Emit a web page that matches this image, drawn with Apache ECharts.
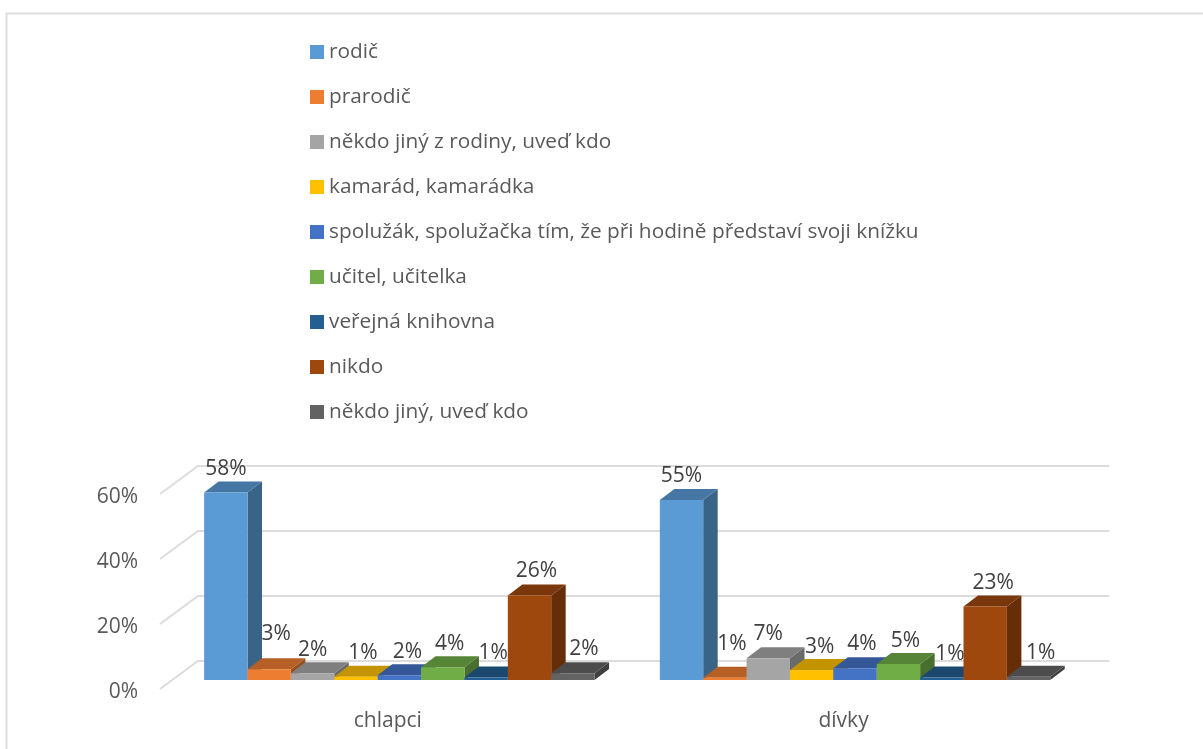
<!DOCTYPE html>
<html><head><meta charset="utf-8">
<style>html,body{margin:0;padding:0;background:#fff}#c{width:1203px;height:749px}</style>
<script src="https://cdn.jsdelivr.net/npm/echarts@6/dist/echarts.min.js"></script>
</head><body><div id="c"></div>
<script>
const categories = ['chlapci', 'dívky'];
const yTicks = [0, 20, 40, 60];
const rodic = [57.7, 55.4];
const prarodic = [3.3, 0.7];
const nekdoZRodiny = [2.1, 6.7];
const kamarad = [1.0, 3.1];
const spoluzak = [1.5, 3.6];
const ucitel = [3.9, 4.9];
const knihovna = [0.8, 0.8];
const nikdo = [26, 22.6];
const nekdoJiny = [2.1, 1.0];
const seriesNames = ['rodič', 'prarodič', 'někdo jiný z rodiny, uveď kdo', 'kamarád, kamarádka',
  'spolužák, spolužačka tím, že při hodině představí svoji knížku', 'učitel, učitelka',
  'veřejná knihovna', 'nikdo', 'někdo jiný, uveď kdo'];
const seriesValues = [rodic, prarodic, nekdoZRodiny, kamarad, spoluzak, ucitel, knihovna, nikdo, nekdoJiny];

// styling only
const colors = ['#5B9BD5', '#ED7D31', '#A5A5A5', '#FFC000', '#4472C4', '#70AD47', '#255E91', '#9E480E', '#636363'];
const labelDx = [[0, 0], [7, 7], [0, 0], [7, 8], [8, 7], [7, 7], [7, 8], [7, 8], [11, 12]];
const labelDy = [[-23, -24], [-35, -34], [-23, -24], [-24, -23], [-23, -24], [-23, -23], [-24, -23], [-24, -24], [-24, -24]];
const FONT = '"Open Sans", sans-serif';
const WALL = [38, -28], BAR_SHIFT = [11.5, -9], BAR_DEPTH = [14.5, -11];
const BAR_FRACTION = 0.0476;

function shade(hex, k) {
  const n = parseInt(hex.slice(1), 16);
  return 'rgb(' + [n >> 16 & 255, n >> 8 & 255, n & 255].map(c => Math.round(c * k)).join(',') + ')';
}

function barItem(si) {
  return function (params, api) {
    const cat = api.value(0), val = api.value(1);
    const band = api.size([1, 0])[0];
    const w = band * BAR_FRACTION * 2;
    const c = api.coord([cat, 0]), t = api.coord([cat, val]);
    const x0 = c[0] + (si - 4.5) * w + BAR_SHIFT[0], x1 = x0 + w;
    const yb = c[1] + BAR_SHIFT[1], yt = t[1] + BAR_SHIFT[1];
    const [dx, dy] = BAR_DEPTH;
    const col = colors[si];
    return { type: 'group', children: [
      { type: 'polygon', z2: 1, shape: { points: [[x1, yb], [x1 + dx, yb + dy], [x1 + dx, yt + dy], [x1, yt]] }, style: { fill: shade(col, 0.64) } },
      { type: 'polygon', z2: 1, shape: { points: [[x0, yt], [x0 + dx, yt + dy], [x1 + dx, yt + dy], [x1, yt]] }, style: { fill: shade(col, 0.77) } },
      { type: 'rect', z2: 2, shape: { x: x0, y: yt, width: w, height: yb - yt }, style: { fill: col } },
      { type: 'text', z2: 100, x: x0 + w / 2 + labelDx[si][cat], y: yt + labelDy[si][cat],
        style: { text: Math.round(val) + '%', font: '21px ' + FONT, fill: '#404040', align: 'center', verticalAlign: 'middle' } }
    ] };
  };
}

function wallItem(params, api) {
  const v = api.value(0);
  const l = api.coord([0, v]);
  const band = api.size([1, 0])[0];
  const xL = l[0] - band / 2, xR = xL + band * categories.length, y = l[1];
  return { type: 'polyline', shape: { points: [[xL, y], [xL + WALL[0], y + WALL[1]], [xR + WALL[0], y + WALL[1]]] },
    style: { fill: null, stroke: '#dcdcdc', lineWidth: 2 } };
}

const series = [{
  name: 'wall', type: 'custom', silent: true, z: 1, renderItem: wallItem,
  data: yTicks.map(v => [v]), encode: { y: 0 }, clip: false
}].concat(seriesNames.map((name, si) => ({
  name, type: 'custom', z: 2, clip: false, renderItem: barItem(si), itemStyle: { color: colors[si] },
  data: seriesValues[si].map((v, i) => [i, v]), encode: { x: 0, y: 1 }
})));

const chart = echarts.init(document.getElementById('c'), null, { renderer: 'canvas' });
chart.setOption({
  animation: false,
  backgroundColor: '#fff',
  textStyle: { fontFamily: FONT },
  graphic: [{ type: 'polyline', silent: true, shape: { points: [[6.5, 749], [6.5, 13.5], [1203, 13.5]] },
    style: { fill: null, stroke: '#dedede', lineWidth: 2 } }],
  legend: {
    orient: 'vertical', left: 310, top: 38, itemWidth: 14, itemHeight: 14, itemGap: 17, padding: 0,
    icon: 'rect', data: seriesNames, selectedMode: false,
    textStyle: { fontFamily: FONT, fontSize: 20.8, color: '#595959', lineHeight: 28 }
  },
  grid: { left: 160, top: 494, width: 911.4, height: 195 },
  xAxis: { type: 'category', data: categories, axisLine: { show: false }, axisTick: { show: false },
    axisLabel: { fontSize: 21, color: '#595959', margin: 22, fontFamily: FONT } },
  yAxis: { type: 'value', min: 0, max: 60, interval: 20, splitLine: { show: false }, axisLine: { show: false }, axisTick: { show: false },
    axisLabel: { margin: 22, formatter: '{t|{value}%}',
      rich: { t: { fontSize: 21, color: '#595959', fontFamily: FONT, padding: [6, 0, 0, 0] } } } },
  series
});
</script></body></html>
